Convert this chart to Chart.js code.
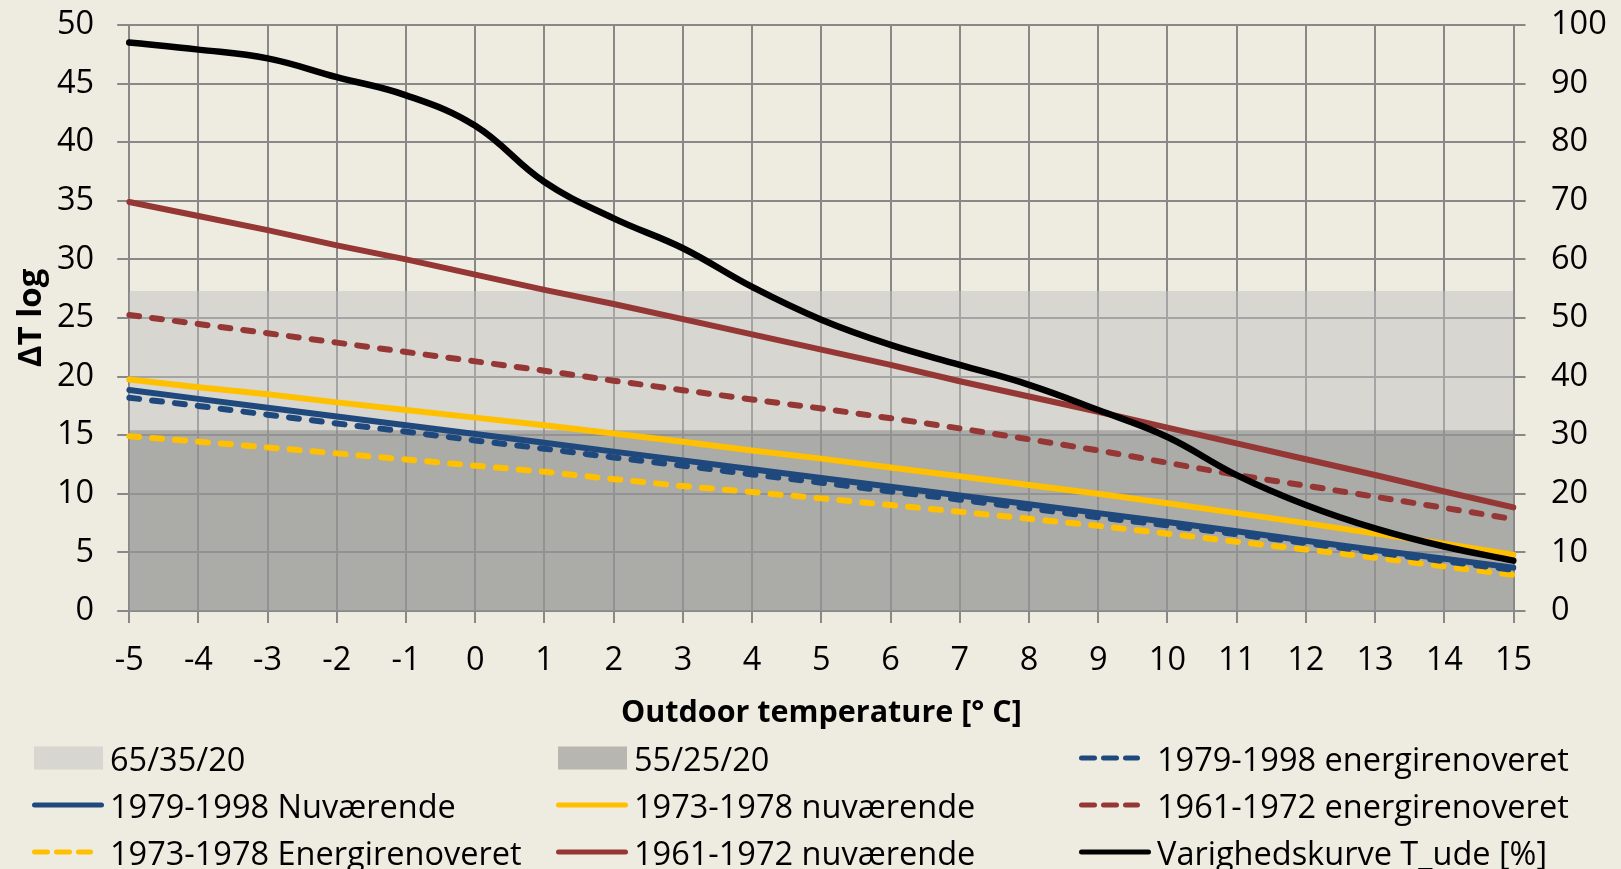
<!DOCTYPE html>
<html lang="da">
<head>
<meta charset="utf-8">
<title>ΔT log / Outdoor temperature</title>
<script src="https://cdn.jsdelivr.net/npm/chart.js@4.4.1/dist/chart.umd.min.js"></script>
<style>
    html, body { margin: 0; padding: 0; background: #eeece1; }
    #wrap { position: relative; width: 1621px; height: 869px; overflow: hidden; font-family: "Open Sans", sans-serif; }
    #chart { position: absolute; left: 0; top: 0; }
    #legend { position: absolute; left: 0; top: 0; width: 1621px; height: 869px; pointer-events: none; }
    .item { position: absolute; height: 44px; display: flex; align-items: center; font-size: 32.5px; color: #000; white-space: nowrap; }
    .item svg { flex: none; }
    .item span { margin-left: 6px; }
</style>
</head>
<body>
<div id="wrap">
    <canvas id="chart" width="1621" height="869"></canvas>
    <div id="legend"></div>
</div>
<script>
// Udetemperatur (x-akse)
const temps = ['-5', '-4', '-3', '-2', '-1', '0', '1', '2', '3', '4', '5', '6', '7', '8', '9', '10', '11', '12', '13', '14', '15'];

// Temperatursæt (baggrundsbånd), ΔT log
const band653520 = [27.3, 27.3, 27.3, 27.3, 27.3, 27.3, 27.3, 27.3, 27.3, 27.3, 27.3, 27.3, 27.3, 27.3, 27.3, 27.3, 27.3, 27.3, 27.3, 27.3, 27.3];
const band552520 = [15.42, 15.42, 15.42, 15.42, 15.42, 15.42, 15.42, 15.42, 15.42, 15.42, 15.42, 15.42, 15.42, 15.42, 15.42, 15.42, 15.42, 15.42, 15.42, 15.42, 15.42];

// Bygningsserier, ΔT log
const ren7998 = [18.2, 17.5, 16.75, 16.0, 15.3, 14.55, 13.85, 13.1, 12.4, 11.65, 10.95, 10.2, 9.5, 8.75, 8.0, 7.3, 6.55, 5.8, 5.0, 4.25, 3.5];
const nuv7998 = [18.85, 18.1, 17.35, 16.6, 15.85, 15.1, 14.35, 13.6, 12.85, 12.1, 11.35, 10.6, 9.85, 9.1, 8.35, 7.6, 6.8, 6.0, 5.2, 4.45, 3.7];
const nuv7378 = [19.75, 19.1, 18.5, 17.8, 17.15, 16.5, 15.85, 15.15, 14.45, 13.7, 13.0, 12.25, 11.5, 10.75, 10.0, 9.2, 8.35, 7.5, 6.6, 5.75, 4.8];
const ren6172 = [25.26, 24.49, 23.7, 22.9, 22.1, 21.3, 20.5, 19.65, 18.84, 18.05, 17.28, 16.45, 15.58, 14.65, 13.7, 12.65, 11.6, 10.7, 9.75, 8.8, 7.84];
const ren7378 = [14.92, 14.45, 13.96, 13.45, 12.93, 12.4, 11.88, 11.25, 10.66, 10.15, 9.61, 9.05, 8.47, 7.87, 7.27, 6.6, 5.91, 5.25, 4.55, 3.8, 3.07];
const nuv6172 = [34.9, 33.7, 32.5, 31.2, 30.0, 28.7, 27.4, 26.2, 24.9, 23.6, 22.3, 21.0, 19.6, 18.3, 17.0, 15.65, 14.3, 12.95, 11.6, 10.2, 8.84];

// Varighedskurve (højre akse, %)
const varighed = [97, 95.8, 94.3, 91.1, 88, 82.8, 73.2, 67, 61.9, 55.3, 49.7, 45.4, 42, 38.6, 34.3, 29.7, 23.2, 18.1, 14.1, 11, 8.6];

const FONT = '"Open Sans", sans-serif';
const BLUE = '#1f497d';
const YELLOW = '#ffc000';
const RED = '#953735';
const GRID = '#888888';
const DASH = [10, 13];

function linje(label, data, color, dashed, order) {
    return {
        label: label,
        data: data,
        borderColor: color,
        backgroundColor: color,
        borderWidth: 6,
        borderDash: dashed ? DASH : [],
        borderCapStyle: 'round',
        borderJoinStyle: 'round',
        fill: false,
        order: order,
        swatch: dashed ? 'dash' : 'line'
    };
}

// Rækkefølgen her er også forklaringens rækkefølge (række for række)
const datasets = [
    { label: '65/35/20', data: band653520, fill: 'origin', backgroundColor: 'rgba(192,192,192,0.5)', borderWidth: 0, order: 10, swatch: 'box' },
    { label: '55/25/20', data: band552520, fill: 'origin', backgroundColor: 'rgba(128,128,128,0.5)', borderWidth: 0, order: 9, swatch: 'box' },
    linje('1979-1998 energirenoveret', ren7998, BLUE, true, 1),
    linje('1979-1998 Nuværende', nuv7998, BLUE, false, 2),
    linje('1973-1978 nuværende', nuv7378, YELLOW, false, 3),
    linje('1961-1972 energirenoveret', ren6172, RED, true, 4),
    linje('1973-1978 Energirenoveret', ren7378, YELLOW, true, 5),
    linje('1961-1972 nuværende', nuv6172, RED, false, 6),
    Object.assign(linje('Varighedskurve T_ude [%]', varighed, '#000000', false, 0), { yAxisID: 'y2', tension: 0.4, borderWidth: 6.5 })
];

const tickFont = { family: FONT, size: 32.5 };

// faste aksebredder, og ingen ekstra luft over/under plotområdet
function fastBredde(w) {
    return s => { s.width = w; s.paddingTop = 0; s.paddingBottom = 0; };
}

const chart = new Chart(document.getElementById('chart').getContext('2d'), {
    type: 'line',
    data: { labels: temps, datasets: datasets },
    options: {
        responsive: false,
        animation: false,
        layout: { padding: { top: 25, bottom: 128, left: 0, right: 0 } },
        elements: { point: { radius: 0 }, line: { tension: 0 } },
        plugins: { legend: { display: false }, tooltip: { enabled: false } },
        scales: {
            x: {
                type: 'category',
                offset: false,
                grid: { color: GRID, lineWidth: 2, tickLength: 12, offset: false },
                border: { color: GRID, width: 2 },
                ticks: { font: tickFont, color: '#000', padding: 18, maxRotation: 0, autoSkip: false },
                title: { display: true, text: 'Outdoor temperature [° C]', color: '#000', font: { family: FONT, size: 30.5, weight: 'bold' }, padding: { top: 0, bottom: 9.5 } },
                afterFit: s => { s.height = 130; s.paddingLeft = 0; s.paddingRight = 0; }
            },
            y: {
                position: 'left',
                min: 0,
                max: 50,
                grid: { color: GRID, lineWidth: 2, tickLength: 12 },
                border: { color: GRID, width: 2 },
                ticks: { stepSize: 5, font: tickFont, color: '#000', padding: 23 },
                title: { display: true, text: 'ΔT log', color: '#000', font: { family: FONT, size: 33, weight: 'bold' }, padding: { top: 12, bottom: 0 } },
                afterFit: fastBredde(129.2)
            },
            y2: {
                position: 'right',
                min: 0,
                max: 100,
                grid: { drawOnChartArea: false, color: GRID, lineWidth: 2, tickLength: 12 },
                border: { color: GRID, width: 2 },
                ticks: { stepSize: 10, font: tickFont, color: '#000', padding: 25.5 },
                afterFit: fastBredde(107.5)
            }
        }
    }
});

// Forklaring i tre kolonner under grafen
const legendCols = [32, 556, 1079];
const legendRows = [758, 805, 852];

function swatchSvg(ds) {
    if (ds.swatch === 'box') {
        return `<svg width="72" height="44"><rect x="2" y="10.5" width="69" height="23" fill="${ds.backgroundColor}"/></svg>`;
    }
    if (ds.swatch === 'dash') {
        return `<svg width="72" height="44"><line x1="2.5" y1="22" x2="58.5" y2="22" stroke="${ds.borderColor}" stroke-width="5" stroke-linecap="round" stroke-dasharray="13 9"/></svg>`;
    }
    return `<svg width="72" height="44"><line x1="2.5" y1="22" x2="69.5" y2="22" stroke="${ds.borderColor}" stroke-width="5" stroke-linecap="round"/></svg>`;
}

let html = '';
chart.data.datasets.forEach((ds, i) => {
    const col = i % 3;
    const row = Math.floor(i / 3);
    html += `<div class="item" style="left:${legendCols[col]}px; top:${legendRows[row] - 22}px">${swatchSvg(ds)}<span>${ds.label}</span></div>`;
});
document.getElementById('legend').innerHTML = html;
</script>
</body>
</html>
